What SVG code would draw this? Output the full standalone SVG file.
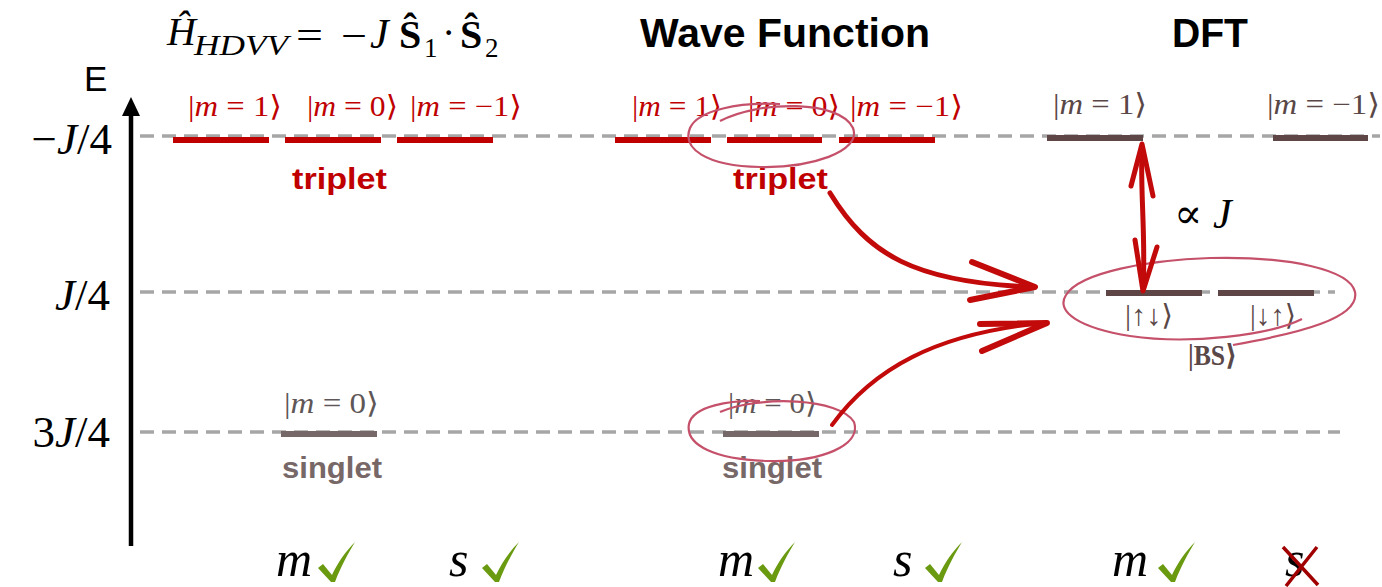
<svg xmlns="http://www.w3.org/2000/svg" width="1382" height="587" viewBox="0 0 1382 587">
<defs>
<style>
.math{font-family:"Liberation Serif","DejaVu Serif",serif;}
.it{font-style:italic;}
.head{font-family:"Liberation Sans","DejaVu Sans",sans-serif;font-weight:bold;font-size:40px;fill:#000;}
.ket{font-family:"Liberation Serif","DejaVu Serif",serif;font-size:29px;}
.red{fill:#c00000;}
.brown{fill:#5a4747;}
.grayk{fill:#5f5757;}
.lbl{font-family:"Liberation Sans","DejaVu Sans",sans-serif;font-weight:bold;font-size:30px;}
.dash{stroke:#a6a6a6;stroke-width:3.5;stroke-dasharray:14 8;fill:none;}
.barR{stroke:#c00000;stroke-width:6;}
.barB{stroke:#5e4646;stroke-width:6;}
.barG{stroke:#766868;stroke-width:6;}
.loop{fill:none;stroke:#c5506a;stroke-width:2.2;}
.hand{fill:none;stroke:#c20a0a;stroke-linecap:round;stroke-linejoin:round;}
.big{font-family:"Liberation Serif","DejaVu Serif",serif;font-size:50px;font-style:italic;fill:#000;}
</style>
<path id="check" d="M0,26 L5,22 L14,33 C20,20 28,9 37,0 C31,10 23,24 17,40 L13,40 Z" fill="#6a9a10"/>
</defs>
<rect width="1382" height="587" fill="#fff"/>

<!-- Titles -->
<g id="title-hdvv" class="math" fill="#000">
  <text x="167" y="45" font-size="40" class="it">Ĥ</text>
  <text x="194" y="55" font-size="29" class="it" textLength="94" lengthAdjust="spacingAndGlyphs">HDVV</text>
  <text x="296" y="49" font-size="40" textLength="27" lengthAdjust="spacingAndGlyphs">=</text>
  <text x="341" y="49" font-size="40" textLength="26" lengthAdjust="spacingAndGlyphs">−</text>
  <text x="370" y="48" font-size="42" class="it">J</text>
  <text x="399" y="48" font-size="40" font-weight="bold">Ŝ</text>
  <text x="424" y="57" font-size="27">1</text>
  <text x="442" y="46" font-size="40">·</text>
  <text x="460" y="48" font-size="40" font-weight="bold">Ŝ</text>
  <text x="485" y="57" font-size="27">2</text>
</g>
<g id="title-wf"><text x="640" y="47" class="head" textLength="290" lengthAdjust="spacingAndGlyphs">Wave Function</text></g>
<g id="title-dft"><text x="1172" y="47" class="head" textLength="76" lengthAdjust="spacingAndGlyphs">DFT</text></g>

<!-- Axis -->
<g id="axis">
  <text x="84" y="91" font-family="Liberation Sans, DejaVu Sans, sans-serif" font-size="35" fill="#000">E</text>
  <line x1="131" y1="546" x2="131" y2="112" stroke="#000" stroke-width="4.5"/>
  <polygon points="131,97 122,116 140,116" fill="#000"/>
  <text x="112" y="154" font-size="45" text-anchor="end" class="math" fill="#000">−<tspan class="it">J</tspan>/4</text>
  <text x="110" y="310" font-size="45" text-anchor="end" class="math" fill="#000"><tspan class="it">J</tspan>/4</text>
  <text x="110" y="447" font-size="45" text-anchor="end" class="math" fill="#000">3<tspan class="it">J</tspan>/4</text>
</g>

<!-- Dashed energy lines -->
<g id="levels-dashed">
  <line class="dash" x1="140" y1="136" x2="1380" y2="136"/>
  <line class="dash" x1="140" y1="292" x2="1335" y2="292"/>
  <line class="dash" x1="140" y1="432" x2="1340" y2="432"/>
</g>

<!-- HDVV column -->
<g id="hdvv-triplet">
  <line class="barR" x1="173" y1="140" x2="269" y2="140"/>
  <line class="barR" x1="285" y1="140" x2="381" y2="140"/>
  <line class="barR" x1="397" y1="140" x2="493" y2="140"/>
  <text class="ket red" x="188" y="116" textLength="94" lengthAdjust="spacingAndGlyphs">|<tspan class="it">m</tspan> = 1⟩</text>
  <text class="ket red" x="307" y="116" textLength="91" lengthAdjust="spacingAndGlyphs">|<tspan class="it">m</tspan> = 0⟩</text>
  <text class="ket red" x="410" y="116" textLength="112" lengthAdjust="spacingAndGlyphs">|<tspan class="it">m</tspan> = −1⟩</text>
  <text class="lbl red" x="292" y="189" textLength="95" lengthAdjust="spacingAndGlyphs">triplet</text>
</g>
<g id="hdvv-singlet">
  <line class="barG" x1="281" y1="434" x2="377" y2="434"/>
  <text class="ket grayk" x="284" y="413" textLength="95" lengthAdjust="spacingAndGlyphs">|<tspan class="it">m</tspan> = 0⟩</text>
  <text class="lbl" fill="#776767" x="282" y="478" textLength="100" lengthAdjust="spacingAndGlyphs">singlet</text>
</g>

<!-- Wave function column -->
<g id="wf-triplet">
  <line class="barR" x1="615" y1="140" x2="711" y2="140"/>
  <line class="barR" x1="727" y1="140" x2="822" y2="140"/>
  <line class="barR" x1="839" y1="140" x2="935" y2="140"/>
  <text class="ket red" x="632" y="116" textLength="90" lengthAdjust="spacingAndGlyphs">|<tspan class="it">m</tspan> = 1⟩</text>
  <text class="ket red" x="748" y="116" textLength="92" lengthAdjust="spacingAndGlyphs">|<tspan class="it">m</tspan> = 0⟩</text>
  <text class="ket red" x="850" y="116" textLength="113" lengthAdjust="spacingAndGlyphs">|<tspan class="it">m</tspan> = −1⟩</text>
  <text class="lbl red" x="733" y="189" textLength="95" lengthAdjust="spacingAndGlyphs">triplet</text>
  <path class="loop" d="M720,121 C760,100 840,100 853,128 C862,152 810,168 760,167 C705,166 682,148 690,128 C698,110 740,102 780,104"/>
</g>
<g id="wf-singlet">
  <line class="barG" x1="723" y1="434" x2="819" y2="434"/>
  <text class="ket grayk" x="728" y="413" textLength="89" lengthAdjust="spacingAndGlyphs">|<tspan class="it">m</tspan> = 0⟩</text>
  <text class="lbl" fill="#776767" x="722" y="478" textLength="100" lengthAdjust="spacingAndGlyphs">singlet</text>
  <path class="loop" d="M720,412 C760,395 840,398 854,422 C862,446 820,462 770,461 C715,460 685,445 689,424 C693,406 730,400 760,401"/>
</g>

<!-- DFT column -->
<g id="dft-m1">
  <line class="barB" x1="1047" y1="138" x2="1143" y2="138"/>
  <text class="ket brown" x="1053" y="114" textLength="94" lengthAdjust="spacingAndGlyphs">|<tspan class="it">m</tspan> = 1⟩</text>
</g>
<g id="dft-mm1">
  <line class="barB" x1="1273" y1="138" x2="1368" y2="138"/>
  <text class="ket brown" x="1267" y="114" textLength="113" lengthAdjust="spacingAndGlyphs">|<tspan class="it">m</tspan> = −1⟩</text>
</g>
<g id="dft-bs">
  <line class="barB" x1="1106" y1="293" x2="1202" y2="293"/>
  <line class="barB" x1="1218" y1="293" x2="1314" y2="293"/>
  <text class="ket brown" x="1125" y="325" textLength="48" lengthAdjust="spacingAndGlyphs">|↑↓⟩</text>
  <text class="ket brown" x="1250" y="325" textLength="46" lengthAdjust="spacingAndGlyphs">|↓↑⟩</text>
  <text class="ket brown" x="1188" y="365" font-weight="bold" textLength="49" lengthAdjust="spacingAndGlyphs">|BS⟩</text>
  <path class="loop" d="M1302,319 C1270,335 1190,345 1130,336 C1080,328 1055,312 1066,295 C1080,272 1150,260 1210,258 C1290,256 1350,270 1355,292 C1360,318 1300,333 1233,345"/>
</g>

<!-- Connectors -->
<g id="connectors">
  <path class="hand" stroke-width="5" d="M1142,148 C1140,190 1146,240 1143,288"/>
  <path class="hand" stroke-width="5" d="M1131,186 L1142,144 L1153,196"/>
  <path class="hand" stroke-width="5" d="M1135,240 L1143,291 L1157,247"/>
  <path class="hand" stroke-width="5" d="M830,193 C868,255 915,282 1030,287"/>
  <path class="hand" stroke-width="6" d="M972,262 L1035,287 L970,300"/>
  <path class="hand" stroke-width="4" d="M832,425 C872,370 935,333 1044,323"/>
  <path class="hand" stroke-width="6" d="M980,324 L1047,323 L982,351"/>
</g>

<g id="propto">
  <text x="1174" y="228" class="math" font-size="42" fill="#000">∝ <tspan class="it">J</tspan></text>
</g>

<!-- Bottom check row -->
<g id="checks">
  <text class="big" x="276" y="576">m</text>
  <use href="#check" x="318" y="542"/>
  <text class="big" x="449" y="576">s</text>
  <use href="#check" x="482" y="542"/>
  <text class="big" x="718" y="576">m</text>
  <use href="#check" x="758" y="542"/>
  <text class="big" x="893" y="576">s</text>
  <use href="#check" x="925" y="542"/>
  <text class="big" x="1112" y="576">m</text>
  <use href="#check" x="1158" y="542"/>
  <text class="big" x="1285" y="576">s</text>
  <path d="M1283,547 L1318,585 M1286,586 L1317,547" stroke="#a00000" stroke-width="3.5" fill="none"/>
</g>
</svg>
